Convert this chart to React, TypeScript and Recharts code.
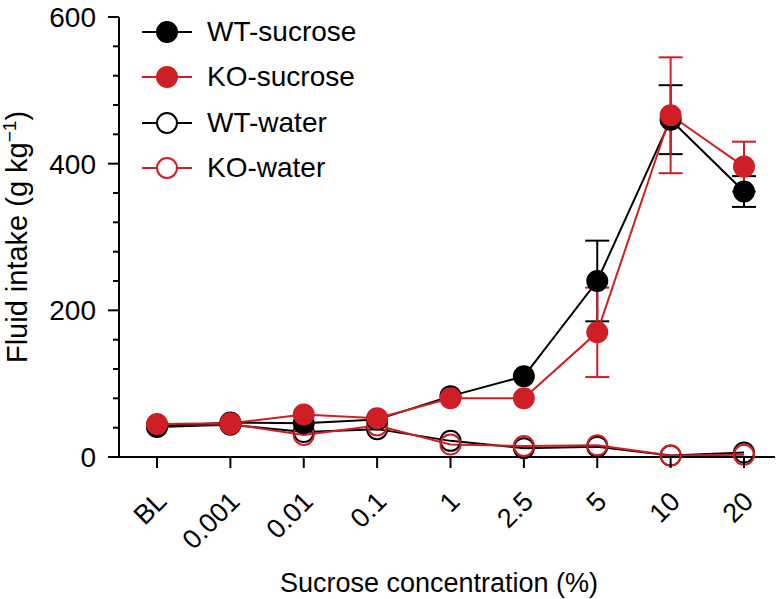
import { LineChart, Line, XAxis, YAxis, ErrorBar, Legend } from "recharts";

const categories = ["BL", "0.001", "0.01", "0.1", "1", "2.5", "5", "10", "20"];
const wtSucrose = [42, 47, 46, 51, 83, 110, 240, 460, 362];
const wtSucroseErr = [null, null, null, null, null, null, 55, 47, 21];
const koSucrose = [45, 46, 58, 53, 80, 80, 170, 466, 396];
const koSucroseErr = [null, null, null, null, null, null, 61, 79, 34];
const wtWater = [41, 44, 34, 38, 22, 12, 14, 2, 6];
const koWater = [43, 45, 30, 43, 17, 15, 16, 2, 3];
const yTicks = [0, 40, 80, 120, 160, 200, 240, 280, 320, 360, 400, 440, 480, 520, 560, 600];
const yLabels = [0, 200, 400, 600];

const RED = "#cf1f26";
const FONT = "'Liberation Sans', Arial, sans-serif";

const data = categories.map((c, i) => ({
  name: c,
  wtSucrose: wtSucrose[i],
  wtSucroseErr: wtSucroseErr[i],
  koSucrose: koSucrose[i],
  koSucroseErr: koSucroseErr[i],
  wtWater: wtWater[i],
  koWater: koWater[i],
}));

const series = [
  { name: "WT-sucrose", color: "#000", filled: true },
  { name: "KO-sucrose", color: RED, filled: true },
  { name: "WT-water", color: "#000", filled: false },
  { name: "KO-water", color: RED, filled: false },
];

const YTick = (props: any) => {
  const { x, y, payload } = props;
  const major = yLabels.includes(payload.value);
  return (
    <g>
      <line x1={x - (major ? 11 : 6)} x2={x} y1={y} y2={y} stroke="#000" strokeWidth={2} />
      {major && (
        <text x={x - 23} y={y + 10} textAnchor="end" fontSize={28} fontFamily={FONT} fill="#000">
          {payload.value}
        </text>
      )}
    </g>
  );
};

const XTick = (props: any) => {
  const { x, y, payload } = props;
  const ax = x + 11;
  const ay = y + 46;
  return (
    <g>
      <line x1={x} x2={x} y1={y} y2={y + 11} stroke="#000" strokeWidth={2} />
      <text
        x={ax}
        y={ay}
        textAnchor="end"
        fontSize={27}
        fontFamily={FONT}
        fill="#000"
        transform={`rotate(-45 ${ax} ${ay})`}
      >
        {payload.value}
      </text>
    </g>
  );
};

const LegendContent = () => (
  <div style={{ fontFamily: FONT, fontSize: 28, color: "#000" }}>
    {series.map((s) => (
      <div key={s.name} style={{ display: "flex", alignItems: "center", height: 45.5 }}>
        <svg width={65} height={26} style={{ display: "block" }}>
          <line x1={0} x2={50} y1={13} y2={13} stroke={s.color} strokeWidth={2} />
          <circle
            cx={25}
            cy={13}
            r={10}
            fill={s.filled ? s.color : "#fff"}
            stroke={s.color}
            strokeWidth={2}
          />
        </svg>
        <span>{s.name}</span>
      </div>
    ))}
  </div>
);

const App = () => {
  return (
    <div style={{ position: "absolute", left: 0, top: 0 }}>
      <LineChart width={781} height={599} data={data} margin={{ top: 17, right: 6, left: 0, bottom: 42 }}>
        <XAxis
          dataKey="name"
          axisLine={{ stroke: "#000", strokeWidth: 2 }}
          tickLine={false}
          tickSize={0}
          tickMargin={0}
          tick={<XTick />}
          interval={0}
          height={100}
          padding={{ left: 38, right: 31 }}
          label={{
            content: (p: any) => {
              const vb = p.viewBox;
              return (
                <text x={vb.x + vb.width / 2 - 8} y={592} textAnchor="middle" fontSize={27} fontFamily={FONT} fill="#000">
                  Sucrose concentration (%)
                </text>
              );
            },
          }}
        />
        <YAxis
          domain={[0, 600]}
          ticks={yTicks}
          interval={0}
          width={119}
          axisLine={{ stroke: "#000", strokeWidth: 2 }}
          tickLine={false}
          tickSize={0}
          tickMargin={0}
          tick={<YTick />}
          label={{
            content: (p: any) => {
              const vb = p.viewBox;
              const cy = vb.y + vb.height / 2;
              return (
                <text
                  x={27}
                  y={cy}
                  textAnchor="middle"
                  fontSize={29}
                  fontFamily={FONT}
                  fill="#000"
                  transform={`rotate(-90 27 ${cy})`}
                >
                  Fluid intake (g kg
                  <tspan dy={-11} fontSize={19}>−1</tspan>
                  <tspan dy={11}>)</tspan>
                </text>
              );
            },
          }}
        />
        <Legend
          layout="vertical"
          align="center"
          verticalAlign="middle"
          content={<LegendContent />}
          wrapperStyle={{ top: 9, left: 142, width: 260 }}
        />
        <Line
          dataKey="wtWater"
          name="WT-water"
          stroke="#000"
          strokeWidth={2}
          dot={{ r: 10, fill: "none", stroke: "#000", strokeWidth: 2 }}
          isAnimationActive={false}
        />
        <Line
          dataKey="koWater"
          name="KO-water"
          stroke={RED}
          strokeWidth={2}
          dot={{ r: 10, fill: "none", stroke: RED, strokeWidth: 2 }}
          isAnimationActive={false}
        />
        <Line
          dataKey="wtSucrose"
          name="WT-sucrose"
          stroke="#000"
          strokeWidth={2}
          dot={{ r: 10, fill: "#000", stroke: "#000", strokeWidth: 2 }}
          isAnimationActive={false}
        >
          <ErrorBar dataKey="wtSucroseErr" width={12} stroke="#000" strokeWidth={2} />
        </Line>
        <Line
          dataKey="koSucrose"
          name="KO-sucrose"
          stroke={RED}
          strokeWidth={2}
          dot={{ r: 10, fill: RED, stroke: RED, strokeWidth: 2 }}
          isAnimationActive={false}
        >
          <ErrorBar dataKey="koSucroseErr" width={12} stroke={RED} strokeWidth={2} />
        </Line>
      </LineChart>
    </div>
  );
};

export default App;
